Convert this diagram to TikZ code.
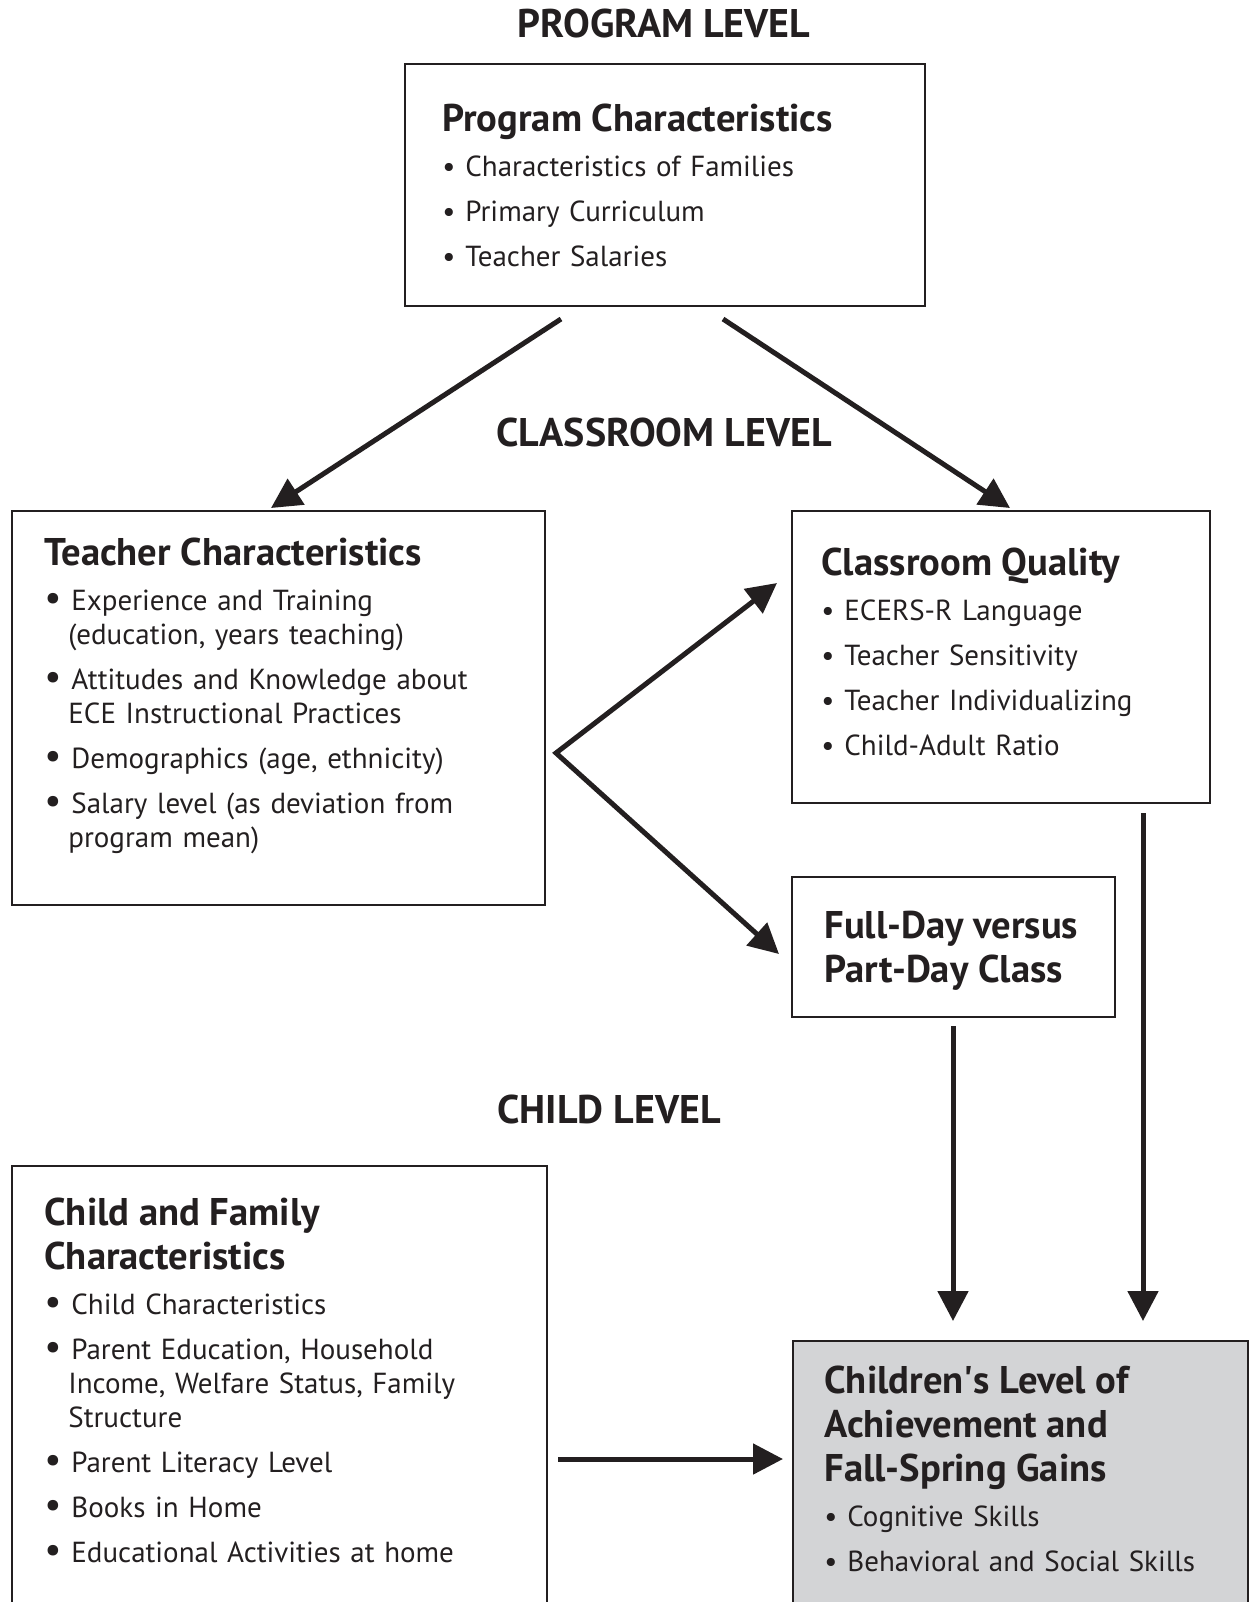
\documentclass[tikz,border=0pt]{standalone}
\usepackage{fontspec}
\setmainfont{PT Sans}
\usepackage{tikz}
\usetikzlibrary{positioning,arrows.meta}

\definecolor{ink}{HTML}{231F20}
\definecolor{outcomegray}{RGB}{211,212,214}
\newcommand{\titlefont}{\fontsize{19.3}{22}\selectfont\bfseries}
\newcommand{\itemfont}{\fontsize{14.5}{17}\selectfont}
\newcommand{\dotitem}[1]{\par\makebox[11.5pt][l]{\textbullet}#1}
\newcommand{\bigdot}{{\fontsize{19}{17}\selectfont\textbullet}}
\newcommand{\bigitem}[1]{\par\hangindent=12pt\hangafter=1\makebox[13.5pt][l]{\bigdot}#1}

\tikzset{
	level/.style={font=\fontsize{20}{22}\selectfont\bfseries, text=ink, inner sep=0pt},
	box/.style={draw=ink, line width=1pt, rectangle, inner sep=0pt, anchor=north west},
	boxtext/.style={anchor=north west, inner sep=0pt, text=ink, align=left, text width=#1,
		font=\itemfont\setlength{\parskip}{5.5pt}\setlength{\parindent}{0pt}},
	flow/.style={draw=ink, line width=2.5pt, line join=miter, -{Triangle[length=15pt,width=15pt]}},
}

\begin{document}
\begin{tikzpicture}[x=0.5pt, y=-0.5pt]
		\useasboundingbox (0,0) rectangle (1249,1602);
		\clip (0,0) rectangle (1249,1602);
		% level headings
		\node[level] (progLevel) at (664,23) {PROGRAM LEVEL};
		\node[level] (roomLevel) at (664,432) {CLASSROOM LEVEL};
		\node[level] (childLevel) at (609,1109) {CHILD LEVEL};
		% boxes
		\node[box, minimum width=260pt, minimum height=121pt] (prog) at (404,63) {};
		\node[box, minimum width=266.5pt, minimum height=197pt] (teacher) at (11,510) {};
		\node[box, minimum width=209pt, minimum height=146pt] (quality) at (791,510) {};
		\node[box, minimum width=161.5pt, minimum height=70pt] (fullday) at (791,876) {};
		\node[box, minimum width=267.5pt, minimum height=240pt] (child) at (11,1165) {};
		\node[box, fill=outcomegray, minimum width=227.5pt, minimum height=160pt] (outcome) at (792,1340) {};
		% box texts
		\node[boxtext=250pt, below right=20.5pt and 19pt of prog.north west] (progText)
		{{\titlefont Program Characteristics\par}
			\dotitem{Characteristics of Families}
			\dotitem{Primary Curriculum}
			\dotitem{Teacher Salaries}\par};
		\node[boxtext=255pt, below right=14pt and 16.5pt of teacher.north west] (teacherText)
		{{\titlefont Teacher Characteristics\par}
			\bigitem{Experience and Training\newline(education, years teaching)}
			\bigitem{Attitudes and Knowledge about\newline ECE Instructional Practices}
			\bigitem{Demographics (age, ethnicity)}
			\bigitem{Salary level (as deviation from\newline program mean)}\par};
		\node[boxtext=200pt, below right=19pt and 15pt of quality.north west] (qualityText)
		{{\titlefont Classroom Quality\par}
			\dotitem{ECERS-R Language}
			\dotitem{Teacher Sensitivity}
			\dotitem{Teacher Individualizing}
			\dotitem{Child-Adult Ratio}\par};
		\node[boxtext=150pt, below right=17.5pt and 16.5pt of fullday.north west] (fulldayText)
		{{\titlefont Full-Day versus\newline Part-Day Class\par}};
		\node[boxtext=255pt, below right=16.5pt and 16.5pt of child.north west] (childText)
		{{\titlefont Child and Family\newline Characteristics\par}
			\bigitem{Child Characteristics}
			\bigitem{Parent Education, Household\newline Income, Welfare Status, Family\newline Structure}
			\bigitem{Parent Literacy Level}
			\bigitem{Books in Home}
			\bigitem{Educational Activities at home}\par};
		\node[boxtext=215pt, below right=13pt and 16pt of outcome.north west] (outcomeText)
		{{\titlefont Children\textquotesingle s Level of\newline Achievement and\newline Fall-Spring Gains\par}
			\dotitem{Cognitive Skills}
			\dotitem{Behavioral and Social Skills}\par};
		% connector ends
		\coordinate (progOutL) at (561,319);
		\coordinate (progOutR) at (723,319);
		\coordinate (teacherIn) at (271,508);
		\coordinate (qualityIn) at (1010,508);
		\coordinate (fork) at (556,753);
		\coordinate (forkUp) at (777,583);
		\coordinate (forkDown) at (779,954);
		\coordinate (qualityOut) at (1143,813);
		\coordinate (fulldayOut) at (953,1026);
		\coordinate (outcomeInR) at (1143,1321);
		\coordinate (outcomeInL) at (953,1321);
		\coordinate (childOut) at (558,1459);
		\coordinate (outcomeIn) at (783,1459);
		% arrows
		\path
		(progOutL) edge[flow] (teacherIn)
		(progOutR) edge[flow] (qualityIn)
		(qualityOut) edge[flow] (outcomeInR)
		(fulldayOut) edge[flow] (outcomeInL)
		(childOut) edge[flow] (outcomeIn)
		;
		\draw[flow, {Triangle[length=15pt,width=15pt]}-{Triangle[length=15pt,width=15pt]}]
		(forkUp) -- (fork) -- (forkDown);
	\end{tikzpicture}
\end{document}
